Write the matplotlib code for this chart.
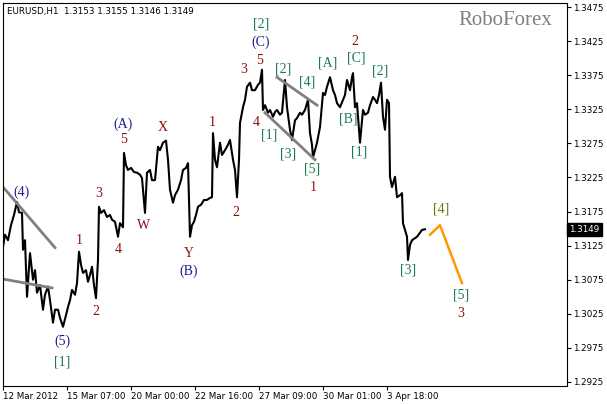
import matplotlib
matplotlib.use('Agg')
import matplotlib.pyplot as plt
import matplotlib.transforms as mtransforms

# EURUSD H1 path (bar index, price)
bars = [0, 2, 5, 8, 11, 14, 16, 19, 20, 22, 24, 27, 30, 32, 34, 37, 40, 42, 45, 47,
        50, 52, 55, 57, 60, 63, 65, 67, 69, 72, 74, 76, 78, 80, 83, 85, 87, 89, 91, 93,
        95, 96, 98, 101, 104, 107, 109, 112, 115, 117, 120, 121, 123, 125, 128, 131, 134, 137, 139, 142,
        144, 147, 149, 152, 155, 157, 160, 163, 165, 167, 170, 172, 175, 178, 180, 183, 185, 187, 189, 191,
        193, 195, 198, 201, 204, 207, 209, 210, 212, 214, 217, 219, 222, 225, 227, 230, 232, 234, 236, 237,
        240, 242, 244, 247, 249, 252, 255, 257, 259, 260, 262, 265, 267, 270, 272, 274, 277, 279, 282, 284,
        287, 289, 292, 294, 297, 299, 302, 305, 307, 309, 310, 312, 314, 317, 320, 322, 324, 327, 330, 332,
        334, 337, 340, 342, 344, 347, 349, 350, 352, 354, 355, 357, 360, 362, 365, 367, 370, 372, 374, 376,
        378, 380, 382, 384, 386, 387, 389, 392, 394, 397, 399, 400, 402, 404, 405, 407, 409, 412, 414, 417,
        419, 422]
price = [1.3123, 1.3141, 1.3133, 1.3155, 1.3170, 1.3189, 1.3174, 1.3173, 1.3119, 1.3133, 1.3050, 1.3114, 1.3075, 1.3089, 1.3056, 1.3067, 1.3031, 1.3053, 1.3065, 1.3045,
         1.3012, 1.3031, 1.3031, 1.3019, 1.3006, 1.3023, 1.3035, 1.3045, 1.3060, 1.3053, 1.3070, 1.3116, 1.3097, 1.3085, 1.3089, 1.3072, 1.3082, 1.3094, 1.3067, 1.3048,
         1.3104, 1.3182, 1.3173, 1.3177, 1.3167, 1.3170, 1.3163, 1.3160, 1.3138, 1.3158, 1.3152, 1.3261, 1.3243, 1.3236, 1.3239, 1.3233, 1.3232, 1.3229, 1.3224, 1.3173,
         1.3232, 1.3236, 1.3221, 1.3221, 1.3270, 1.3265, 1.3276, 1.3279, 1.3251, 1.3207, 1.3188, 1.3199, 1.3207, 1.3221, 1.3236, 1.3239, 1.3246, 1.3138, 1.3155, 1.3160,
         1.3170, 1.3182, 1.3185, 1.3192, 1.3192, 1.3195, 1.3196, 1.3290, 1.3251, 1.3240, 1.3276, 1.3258, 1.3265, 1.3273, 1.3280, 1.3251, 1.3236, 1.3196, 1.3251, 1.3305,
         1.3328, 1.3339, 1.3358, 1.3364, 1.3353, 1.3353, 1.3361, 1.3364, 1.3383, 1.3324, 1.3331, 1.3320, 1.3324, 1.3314, 1.3321, 1.3324, 1.3317, 1.3320, 1.3368, 1.3328,
         1.3295, 1.3280, 1.3309, 1.3312, 1.3320, 1.3317, 1.3324, 1.3339, 1.3290, 1.3273, 1.3255, 1.3265, 1.3276, 1.3299, 1.3349, 1.3346, 1.3358, 1.3372, 1.3353, 1.3346,
         1.3334, 1.3328, 1.3339, 1.3346, 1.3368, 1.3353, 1.3372, 1.3378, 1.3328, 1.3334, 1.3314, 1.3276, 1.3324, 1.3317, 1.3320, 1.3331, 1.3343, 1.3339, 1.3334, 1.3346,
         1.3364, 1.3314, 1.3295, 1.3339, 1.3334, 1.3226, 1.3211, 1.3226, 1.3196, 1.3199, 1.3202, 1.3158, 1.3148, 1.3138, 1.3104, 1.3126, 1.3133, 1.3136, 1.3138, 1.3144,
         1.3148, 1.3149]

# forecast (orange) line
fc_bars = [427, 437, 459]
fc_price = [1.3141, 1.3155, 1.3070]

# gray trend lines: (x0, x1, p0, p1)
trend_lines = [(0, 52, 1.3211, 1.3122),
               (0, 49, 1.3076, 1.3063),
               (274, 314, 1.3372, 1.3331),
               (262, 312, 1.3320, 1.3251)]

# wave labels: text, bar, price, colour
RED = '#8b1010'
BLUE = '#1c1c8c'
GREEN = '#1f7a50'
ORANGE_G = '#6b7a10'
labels = [
    ('(4)', 19, 1.3204, BLUE), ('(5)', 59, 1.2984, BLUE), ('[1]', 59, 1.2955, GREEN),
    ('1', 76, 1.3132, RED), ('2', 93, 1.3029, RED), ('3', 96, 1.3201, RED),
    ('4', 115, 1.3120, RED), ('5', 121, 1.3280, RED), ('(A)', 120, 1.3303, BLUE),
    ('W', 141, 1.3155, RED), ('X', 160, 1.3298, RED), ('Y', 186, 1.3114, RED),
    ('(B)', 186, 1.3088, BLUE), ('1', 209, 1.3305, RED), ('2', 233, 1.3173, RED),
    ('3', 241, 1.3383, RED), ('5', 257, 1.3397, RED), ('4', 253, 1.3305, RED),
    ('(C)', 258, 1.3424, BLUE), ('[2]', 258, 1.3450, GREEN),
    ('[2]', 280, 1.3384, GREEN), ('[1]', 266, 1.3287, GREEN), ('[3]', 285, 1.3260, GREEN),
    ('[4]', 304, 1.3365, GREEN), ('[5]', 309, 1.3238, GREEN), ('1', 310, 1.3211, RED),
    ('[A]', 325, 1.3393, GREEN), ('2', 352, 1.3424, RED), ('[C]', 353, 1.3400, GREEN),
    ('[B]', 345, 1.3311, GREEN), ('[1]', 356, 1.3262, GREEN), ('[2]', 377, 1.3381, GREEN),
    ('[3]', 405, 1.3089, GREEN), ('[4]', 438, 1.3179, ORANGE_G), ('[5]', 458, 1.3053, GREEN),
    ('3', 458, 1.3026, RED),
]

xtick_pos = [0, 64, 128, 192, 256, 320, 384]
xtick_lab = ['12 Mar 2012', '15 Mar 07:00', '20 Mar 00:00', '22 Mar 16:00',
             '27 Mar 09:00', '30 Mar 01:00', '3 Apr 18:00']
ytick_pos = [1.2925, 1.2975, 1.3025, 1.3075, 1.3125, 1.3175, 1.3225,
             1.3275, 1.3325, 1.3375, 1.3425, 1.3475]
last_price = 1.3149

fig = plt.figure(figsize=(6.07, 4.04), dpi=100)
ax = fig.add_axes([3 / 607, 18 / 404, 564 / 607, 383 / 404])
ax.set_xlim(0, 564)
ax.set_ylim(1.29191, 1.34809)

ax.plot(bars, price, color='black', lw=1.5)
ax.plot(fc_bars, fc_price, color='#ff9900', lw=1.8)
for x0, x1, p0, p1 in trend_lines:
    ax.plot([x0, x1], [p0, p1], color='#808080', lw=2)

for txt, x, p, c in labels:
    ax.text(x, p, txt, color=c, fontsize=10, family='Liberation Serif',
            ha='center', va='center')

ax.text(0.89, 0.955, 'RoboForex', transform=ax.transAxes, fontsize=15,
        family='Liberation Serif', color='#808080', ha='center', va='center')
ax.text(0.007, 0.978, 'EURUSD,H1  1.3153 1.3155 1.3146 1.3149', transform=ax.transAxes,
        fontsize=6.3, family='DejaVu Sans', ha='left', va='center')

# axes, ticks
ax.yaxis.tick_right()
ax.set_yticks(ytick_pos)
ax.set_yticklabels(['%.4f' % v for v in ytick_pos], fontsize=6.3)
ax.set_xticks(xtick_pos)
ax.set_xticklabels(xtick_lab, fontsize=6.3, ha='left')
ax.tick_params(axis='both', length=3, width=0.8, pad=1.5)
for s in ax.spines.values():
    s.set_linewidth(0.8)

# current price box
trans = mtransforms.blended_transform_factory(ax.transAxes, ax.transData)
ax.text(1.004, last_price, '%.4f' % last_price, transform=trans, fontsize=6.3,
        color='white', ha='left', va='center',
        bbox=dict(boxstyle='square,pad=0.25', fc='black', ec='black'))

fig.savefig('out.png', dpi=100)
